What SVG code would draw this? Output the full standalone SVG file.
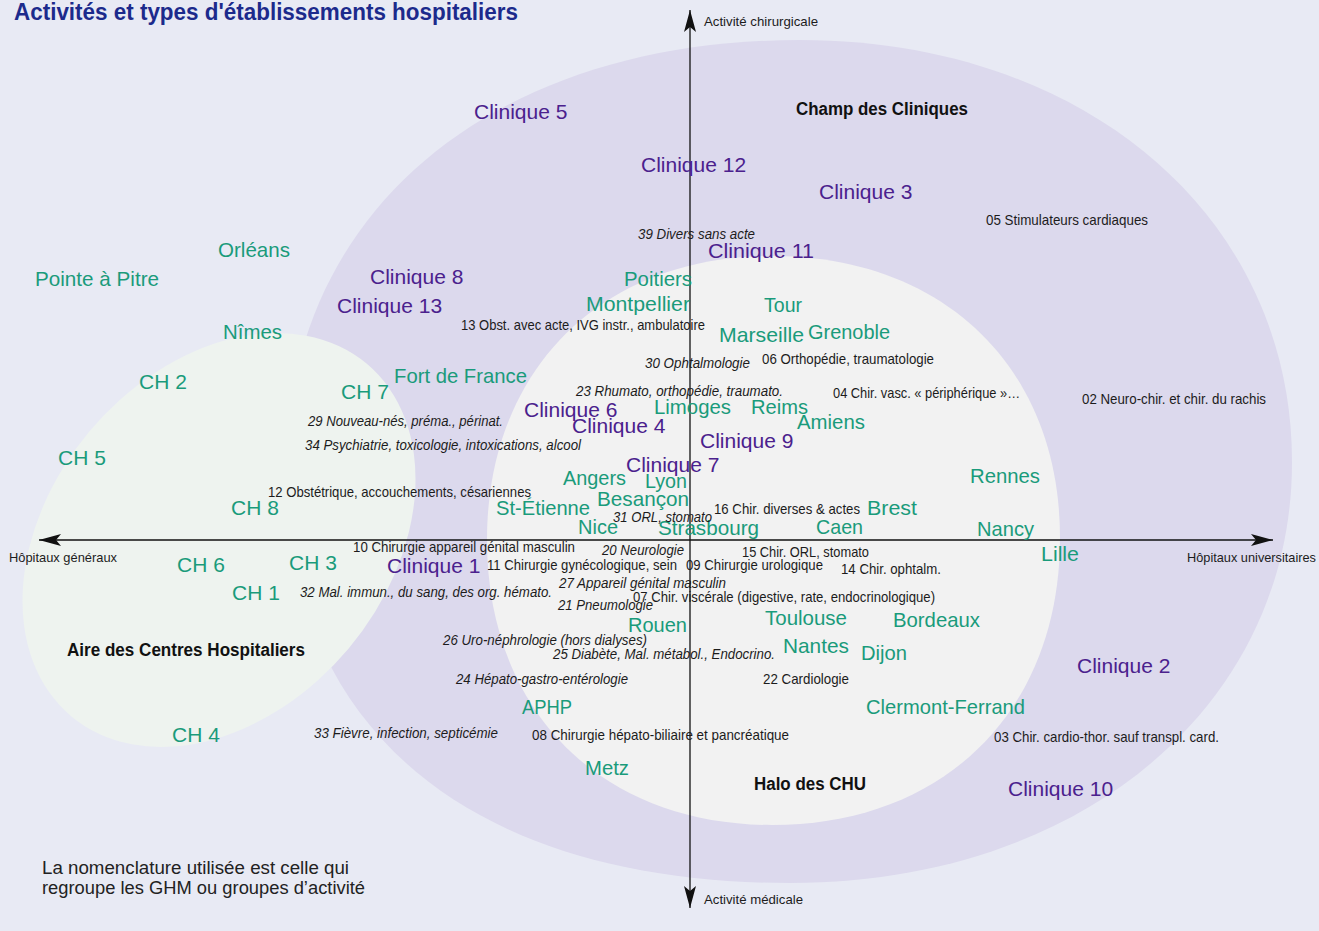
<svg xmlns="http://www.w3.org/2000/svg" width="1319" height="931" viewBox="0 0 1319 931">
<defs>
<style>
.t{font-family:"Liberation Sans",Arial,sans-serif}
.g{fill:#1a9b7b;font-size:21px}
.p{fill:#4b218d;font-size:21px}
.s{fill:#1c1c1c;font-size:15px}
.i{font-style:italic}
.a{fill:#1c1c1c;font-size:13.5px}
.b{fill:#111;font-weight:bold;font-size:18px}
.f{fill:#222;font-size:18.7px}
.ax{stroke:#111;stroke-width:1.3;fill:none}
</style>
<marker id="arr" markerUnits="userSpaceOnUse" markerWidth="23" markerHeight="12" refX="22" refY="6" orient="auto-start-reverse" viewBox="0 0 23 12">
<path d="M0,0 L22,6 L0,12 L5,6 Z" fill="#111"/>
</marker>
</defs>
<rect x="0" y="0" width="1319" height="931" fill="#e8eaf4"/>

<g id="zones">
<path id="champ-cliniques" d="M800,40 C1085,40 1292,217 1292,462 C1292,706 1081,883 790,883 C472,883 286,730 286,470 C286,212 492,40 800,40 Z" fill="#dcd9ed"/>
<path id="halo-chu" d="M772,256 C945,256 1060,369 1060,538 C1060,710 945,825 772,825 C601,825 487,711 487,540 C487,370 601,256 772,256 Z" fill="#f2f2f2"/>
<ellipse id="aire-ch" cx="219" cy="540" rx="230" ry="169" transform="rotate(-50 219 540)" fill="#eef3ef"/>
</g>

<text class="t" x="14" y="20" font-size="23" font-weight="bold" fill="#1c2a8c" textLength="504" lengthAdjust="spacingAndGlyphs">Activités et types d'établissements hospitaliers</text>

<g id="connectors">
<line id="axe-vertical" class="ax" x1="690" y1="10" x2="690" y2="908" marker-start="url(#arr)" marker-end="url(#arr)"/>
<line id="axe-horizontal" class="ax" x1="39" y1="540" x2="1273" y2="540" marker-start="url(#arr)" marker-end="url(#arr)"/>
</g>

<g id="axis-labels" class="t">
<text class="a" x="704" y="26" textLength="114" lengthAdjust="spacingAndGlyphs">Activité chirurgicale</text>
<text class="a" x="704" y="904" textLength="99" lengthAdjust="spacingAndGlyphs">Activité médicale</text>
<text class="a" x="9" y="562" textLength="108" lengthAdjust="spacingAndGlyphs">Hôpitaux généraux</text>
<text class="a" x="1187" y="562" textLength="129" lengthAdjust="spacingAndGlyphs">Hôpitaux universitaires</text>
</g>

<g id="zone-labels" class="t">
<text class="b" x="796" y="115" textLength="172" lengthAdjust="spacingAndGlyphs">Champ des Cliniques</text>
<text class="b" x="67" y="656" textLength="238" lengthAdjust="spacingAndGlyphs">Aire des Centres Hospitaliers</text>
<text class="b" x="754" y="790" textLength="112" lengthAdjust="spacingAndGlyphs">Halo des CHU</text>
</g>

<g id="cliniques" class="t">
<g id="clinique-5"><text class="p" x="474" y="119">Clinique 5</text></g>
<g id="clinique-12"><text class="p" x="641" y="172">Clinique 12</text></g>
<g id="clinique-3"><text class="p" x="819" y="199">Clinique 3</text></g>
<g id="clinique-11"><text class="p" x="708" y="258" textLength="106" lengthAdjust="spacingAndGlyphs">Clinique 11</text></g>
<g id="clinique-8"><text class="p" x="370" y="284">Clinique 8</text></g>
<g id="clinique-13"><text class="p" x="337" y="313">Clinique 13</text></g>
<g id="clinique-6"><text class="p" x="524" y="417">Clinique 6</text></g>
<g id="clinique-4"><text class="p" x="572" y="433">Clinique 4</text></g>
<g id="clinique-9"><text class="p" x="700" y="448">Clinique 9</text></g>
<g id="clinique-7"><text class="p" x="626" y="472">Clinique 7</text></g>
<g id="clinique-1"><text class="p" x="387" y="573">Clinique 1</text></g>
<g id="clinique-2"><text class="p" x="1077" y="673">Clinique 2</text></g>
<g id="clinique-10"><text class="p" x="1008" y="796">Clinique 10</text></g>
</g>

<g id="hopitaux" class="t">
<g id="orleans"><text class="g" x="218" y="257" textLength="72" lengthAdjust="spacingAndGlyphs">Orléans</text></g>
<g id="pointe-a-pitre"><text class="g" x="35" y="286" textLength="124" lengthAdjust="spacingAndGlyphs">Pointe à Pitre</text></g>
<g id="nimes"><text class="g" x="223" y="339" textLength="59" lengthAdjust="spacingAndGlyphs">Nîmes</text></g>
<g id="poitiers"><text class="g" x="624" y="286" textLength="68" lengthAdjust="spacingAndGlyphs">Poitiers</text></g>
<g id="montpellier"><text class="g" x="586" y="311" textLength="104" lengthAdjust="spacingAndGlyphs">Montpellier</text></g>
<g id="tour"><text class="g" x="764" y="312" textLength="38" lengthAdjust="spacingAndGlyphs">Tour</text></g>
<g id="marseille"><text class="g" x="719" y="342" textLength="85" lengthAdjust="spacingAndGlyphs">Marseille</text></g>
<g id="grenoble"><text class="g" x="808" y="339" textLength="82" lengthAdjust="spacingAndGlyphs">Grenoble</text></g>
<g id="ch-2"><text class="g" x="139" y="389">CH 2</text></g>
<g id="ch-7"><text class="g" x="341" y="399">CH 7</text></g>
<g id="fort-de-france"><text class="g" x="394" y="383" textLength="133" lengthAdjust="spacingAndGlyphs">Fort de France</text></g>
<g id="limoges"><text class="g" x="654" y="414" textLength="77" lengthAdjust="spacingAndGlyphs">Limoges</text></g>
<g id="reims"><text class="g" x="751" y="414" textLength="57" lengthAdjust="spacingAndGlyphs">Reims</text></g>
<g id="amiens"><text class="g" x="797" y="429" textLength="68" lengthAdjust="spacingAndGlyphs">Amiens</text></g>
<g id="ch-5"><text class="g" x="58" y="465">CH 5</text></g>
<g id="rennes"><text class="g" x="970" y="483" textLength="70" lengthAdjust="spacingAndGlyphs">Rennes</text></g>
<g id="angers"><text class="g" x="563" y="485" textLength="63" lengthAdjust="spacingAndGlyphs">Angers</text></g>
<g id="lyon"><text class="g" x="645" y="488" textLength="42" lengthAdjust="spacingAndGlyphs">Lyon</text></g>
<g id="besancon"><text class="g" x="597" y="506" textLength="92" lengthAdjust="spacingAndGlyphs">Besançon</text></g>
<g id="st-etienne"><text class="g" x="496" y="515" textLength="94" lengthAdjust="spacingAndGlyphs">St-Étienne</text></g>
<g id="ch-8"><text class="g" x="231" y="515">CH 8</text></g>
<g id="brest"><text class="g" x="867" y="515" textLength="50" lengthAdjust="spacingAndGlyphs">Brest</text></g>
<g id="nice"><text class="g" x="578" y="534" textLength="40" lengthAdjust="spacingAndGlyphs">Nice</text></g>
<g id="strasbourg"><text class="g" x="658" y="535" textLength="101" lengthAdjust="spacingAndGlyphs">Strasbourg</text></g>
<g id="caen"><text class="g" x="816" y="534" textLength="47" lengthAdjust="spacingAndGlyphs">Caen</text></g>
<g id="nancy"><text class="g" x="977" y="536" textLength="57" lengthAdjust="spacingAndGlyphs">Nancy</text></g>
<g id="lille"><text class="g" x="1041" y="561" textLength="38" lengthAdjust="spacingAndGlyphs">Lille</text></g>
<g id="ch-6"><text class="g" x="177" y="572">CH 6</text></g>
<g id="ch-3"><text class="g" x="289" y="570">CH 3</text></g>
<g id="ch-1"><text class="g" x="232" y="600">CH 1</text></g>
<g id="toulouse"><text class="g" x="765" y="625" textLength="82" lengthAdjust="spacingAndGlyphs">Toulouse</text></g>
<g id="bordeaux"><text class="g" x="893" y="627" textLength="87" lengthAdjust="spacingAndGlyphs">Bordeaux</text></g>
<g id="rouen"><text class="g" x="628" y="632" textLength="59" lengthAdjust="spacingAndGlyphs">Rouen</text></g>
<g id="nantes"><text class="g" x="783" y="653" textLength="66" lengthAdjust="spacingAndGlyphs">Nantes</text></g>
<g id="dijon"><text class="g" x="861" y="660" textLength="46" lengthAdjust="spacingAndGlyphs">Dijon</text></g>
<g id="aphp"><text class="g" x="522" y="714" textLength="50" lengthAdjust="spacingAndGlyphs">APHP</text></g>
<g id="clermont-ferrand"><text class="g" x="866" y="714" textLength="159" lengthAdjust="spacingAndGlyphs">Clermont-Ferrand</text></g>
<g id="ch-4"><text class="g" x="172" y="742">CH 4</text></g>
<g id="metz"><text class="g" x="585" y="775" textLength="44" lengthAdjust="spacingAndGlyphs">Metz</text></g>
</g>

<g id="activites" class="t">
<g id="ghm-05"><text class="s" x="986" y="225" textLength="162" lengthAdjust="spacingAndGlyphs">05 Stimulateurs cardiaques</text></g>
<g id="ghm-39"><text class="s i" x="638" y="239" textLength="117" lengthAdjust="spacingAndGlyphs">39 Divers sans acte</text></g>
<g id="ghm-13"><text class="s" x="461" y="330" textLength="244" lengthAdjust="spacingAndGlyphs">13 Obst. avec acte, IVG instr., ambulatoire</text></g>
<g id="ghm-06"><text class="s" x="762" y="364" textLength="172" lengthAdjust="spacingAndGlyphs">06 Orthopédie, traumatologie</text></g>
<g id="ghm-30"><text class="s i" x="645" y="368" textLength="105" lengthAdjust="spacingAndGlyphs">30 Ophtalmologie</text></g>
<g id="ghm-23"><text class="s i" x="576" y="396" textLength="207" lengthAdjust="spacingAndGlyphs">23 Rhumato, orthopédie, traumato.</text></g>
<g id="ghm-04"><text class="s" x="833" y="398" textLength="187" lengthAdjust="spacingAndGlyphs">04 Chir. vasc. « périphérique »…</text></g>
<g id="ghm-02"><text class="s" x="1082" y="404" textLength="184" lengthAdjust="spacingAndGlyphs">02 Neuro-chir. et chir. du rachis</text></g>
<g id="ghm-29"><text class="s i" x="308" y="426" textLength="195" lengthAdjust="spacingAndGlyphs">29 Nouveau-nés, préma., périnat.</text></g>
<g id="ghm-34"><text class="s i" x="305" y="450" textLength="276" lengthAdjust="spacingAndGlyphs">34 Psychiatrie, toxicologie, intoxications, alcool</text></g>
<g id="ghm-12"><text class="s" x="268" y="497" textLength="263" lengthAdjust="spacingAndGlyphs">12 Obstétrique, accouchements, césariennes</text></g>
<g id="ghm-16"><text class="s" x="714" y="514" textLength="146" lengthAdjust="spacingAndGlyphs">16 Chir. diverses &amp; actes</text></g>
<g id="ghm-31"><text class="s i" x="613" y="522" textLength="99" lengthAdjust="spacingAndGlyphs">31 ORL, stomato</text></g>
<g id="ghm-10"><text class="s" x="353" y="552" textLength="222" lengthAdjust="spacingAndGlyphs">10 Chirurgie appareil génital masculin</text></g>
<g id="ghm-20"><text class="s i" x="602" y="555" textLength="82" lengthAdjust="spacingAndGlyphs">20 Neurologie</text></g>
<g id="ghm-15"><text class="s" x="742" y="557" textLength="127" lengthAdjust="spacingAndGlyphs">15 Chir. ORL, stomato</text></g>
<g id="ghm-11"><text class="s" x="487" y="570" textLength="190" lengthAdjust="spacingAndGlyphs">11 Chirurgie gynécologique, sein</text></g>
<g id="ghm-09"><text class="s" x="686" y="570" textLength="137" lengthAdjust="spacingAndGlyphs">09 Chirurgie urologique</text></g>
<g id="ghm-14"><text class="s" x="841" y="574" textLength="100" lengthAdjust="spacingAndGlyphs">14 Chir. ophtalm.</text></g>
<g id="ghm-27"><text class="s i" x="559" y="588" textLength="167" lengthAdjust="spacingAndGlyphs">27 Appareil génital masculin</text></g>
<g id="ghm-32"><text class="s i" x="300" y="597" textLength="252" lengthAdjust="spacingAndGlyphs">32 Mal. immun., du sang, des org. hémato.</text></g>
<g id="ghm-07"><text class="s" x="633" y="602" textLength="302" lengthAdjust="spacingAndGlyphs">07 Chir. viscérale (digestive, rate, endocrinologique)</text></g>
<g id="ghm-21"><text class="s i" x="558" y="610" textLength="95" lengthAdjust="spacingAndGlyphs">21 Pneumologie</text></g>
<g id="ghm-26"><text class="s i" x="443" y="645" textLength="204" lengthAdjust="spacingAndGlyphs">26 Uro-néphrologie (hors dialyses)</text></g>
<g id="ghm-25"><text class="s i" x="553" y="659" textLength="222" lengthAdjust="spacingAndGlyphs">25 Diabète, Mal. métabol., Endocrino.</text></g>
<g id="ghm-24"><text class="s i" x="456" y="684" textLength="172" lengthAdjust="spacingAndGlyphs">24 Hépato-gastro-entérologie</text></g>
<g id="ghm-22"><text class="s" x="763" y="684" textLength="86" lengthAdjust="spacingAndGlyphs">22 Cardiologie</text></g>
<g id="ghm-33"><text class="s i" x="314" y="738" textLength="184" lengthAdjust="spacingAndGlyphs">33 Fièvre, infection, septicémie</text></g>
<g id="ghm-08"><text class="s" x="532" y="740" textLength="257" lengthAdjust="spacingAndGlyphs">08 Chirurgie hépato-biliaire et pancréatique</text></g>
<g id="ghm-03"><text class="s" x="994" y="742" textLength="225" lengthAdjust="spacingAndGlyphs">03 Chir. cardio-thor. sauf transpl. card.</text></g>
</g>

<g id="note" class="t">
<text class="f" x="42" y="874" textLength="307" lengthAdjust="spacingAndGlyphs">La nomenclature utilisée est celle qui</text>
<text class="f" x="42" y="894" textLength="323" lengthAdjust="spacingAndGlyphs">regroupe les GHM ou groupes d’activité</text>
</g>
</svg>
